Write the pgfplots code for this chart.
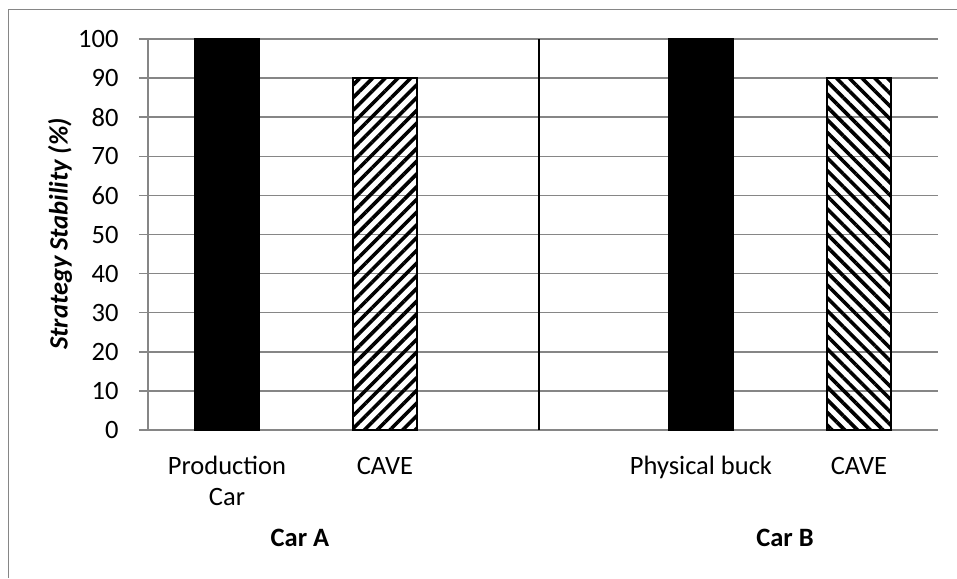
\documentclass[border=0pt]{standalone}
\usepackage{fontspec}
\setmainfont{Carlito}
\usepackage{pgfplots}
\pgfplotsset{compat=1.18}
\usetikzlibrary{patterns.meta}
\definecolor{excelgray}{HTML}{868686}
\newcommand{\chartfont}{\fontsize{26.5}{31}\selectfont}
\begin{document}
\begin{tikzpicture}
\path[use as bounding box] (0,0) rectangle (957pt,578pt);
% outer chart frame
\draw[excelgray, line width=1.5pt] (8.5pt,0) -- (8.5pt,568.5pt) -- (957pt,568.5pt);
\begin{axis}[
    at={(148pt,148pt)}, anchor=south west,
    scale only axis, width=790pt, height=391pt,
    font=\chartfont,
    /pgf/number format/assume math mode=true,
    xmin=-0.5, xmax=4.5, ymin=0, ymax=100,
    axis x line*=bottom, axis y line*=left,
    axis line style={excelgray, line width=1.5pt, -},
    ytick={0,10,...,100},
    ymajorgrids, grid style={excelgray, line width=1.5pt},
    tick align=outside,
    ytick style={excelgray, line width=1.5pt},
    major tick length=9pt,
    yticklabel style={xshift=-17pt},
    xtick={0,1,3,4},
    xticklabels={{\strut Production\\Car},{\strut CAVE},{\strut Physical buck},{\strut CAVE}},
    xticklabel style={align=center, anchor=north, yshift=-10pt},
    xtick style={draw=none},
    extra x ticks={-0.5,0.5,1.5,2.5,3.5,4.5},
    extra x tick labels={},
    extra x tick style={xtick style={excelgray, line width=1.5pt}, major tick length=7pt},
    ybar, bar width=64pt,
]
\addplot[fill=black, draw=black, line width=1.5pt, bar shift=0pt] coordinates {(0,100)};
\addplot[draw=black, line width=2pt, bar shift=0pt,
  pattern={Lines[angle=45,distance=9pt,line width=3.6pt]}, pattern color=black] coordinates {(1,90)};
\addplot[fill=black, draw=black, line width=1.5pt, bar shift=0pt] coordinates {(3,100)};
\addplot[draw=black, line width=2pt, bar shift=0pt,
  pattern={Lines[angle=-45,distance=9pt,line width=3.6pt]}, pattern color=black] coordinates {(4,90)};
% separator between the two cars
\addplot[sharp plot, black, line width=2pt] coordinates {(1.975,0) (1.975,100)};
\end{axis}
\node[font=\chartfont\bfseries] at (300pt,40pt) {Car A};
\node[font=\chartfont\bfseries] at (785pt,40pt) {Car B};
\node[font=\chartfont\bfseries\itshape, rotate=90] at (60pt,344pt) {Strategy Stability (\%)};
\end{tikzpicture}
\end{document}
